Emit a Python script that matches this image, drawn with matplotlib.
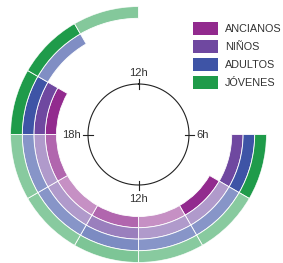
import numpy as np
import matplotlib
matplotlib.use("Agg")
import matplotlib.pyplot as plt
from matplotlib.patches import Rectangle
from matplotlib.colors import to_rgb

# ---- data ----
grupos = ["ANCIANOS", "NIÑOS", "ADULTOS", "JÓVENES"]          # inner -> outer ring
colores = ["#922a8e", "#6f48a0", "#3e54a6", "#1f9b4a"]
horas_inicio = [6, 8, 10, 12, 14, 16, 18, 20, 22]               # 2-hour slots
# intensity of each 2h slot (None = no activity)
ancianos = [None, 1.0, 0.52, 0.72, 0.52, 0.72, 1.0, None, None]
ninos    = [1.0, 0.55, 0.55, 0.70, 0.55, 0.55, 1.0, None, None]
adultos  = [1.0, 0.62, 0.62, 0.68, 0.62, 0.62, 1.0, 0.66, None]
jovenes  = [1.0, 0.53, 0.53, 0.58, 0.53, 0.53, 1.0, 1.0, 0.55]
series = [ancianos, ninos, adultos, jovenes]
reloj_labels = ["12h", "6h", "12h", "18h"]
reloj_horas = [0, 6, 12, 18]

# ---- figure ----
W, H = 283, 263
fig = plt.figure(figsize=(W / 100, H / 100), dpi=100)
cx, cy, R = 138.5, 134.5, 128.0
ax = fig.add_axes([(cx - R) / W, (H - cy - R) / H, 2 * R / W, 2 * R / H],
                  projection="polar")
ax.set_theta_zero_location("N")
ax.set_theta_direction(-1)
ax.set_ylim(0, R)
ax.axis("off")

def h2t(h):
    return h * 2 * np.pi / 24

radios = [82.0, 93.2, 104.6, 116.2, 128.0]

def mezcla(c, a):
    r = np.array(to_rgb(c))
    return tuple(1 - a * (1 - r))

for i, (vals, col) in enumerate(zip(series, colores)):
    for h, v in zip(horas_inicio, vals):
        if v is None:
            continue
        ax.bar(h2t(h), radios[i + 1] - radios[i], width=h2t(2), bottom=radios[i],
               align="edge", color=mezcla(col, v), edgecolor="white",
               linewidth=0.6)

# clock
tt = np.linspace(0, 2 * np.pi, 400)
ax.plot(tt, np.full_like(tt, 50.5), color="#222222", lw=0.8)
for h in reloj_horas:
    ax.plot([h2t(h), h2t(h)], [46, 55.5], color="#222222", lw=0.8)

tk = dict(fontsize=8, color="#333333", family="Liberation Sans")
ax.text(h2t(0), 56.5, reloj_labels[0], ha="center", va="bottom", **tk)
ax.text(h2t(6), 58.0, reloj_labels[1], ha="left", va="center", **tk)
ax.text(h2t(12), 60.0, reloj_labels[2], ha="center", va="top", **tk)
ax.text(h2t(18), 58.0, reloj_labels[3], ha="right", va="center", **tk)

# legend (pixel overlay)
ov = fig.add_axes([0, 0, 1, 1])
ov.set_xlim(0, W)
ov.set_ylim(H, 0)
ov.axis("off")
for i, (g, c) in enumerate(zip(grupos, colores)):
    y0 = 22 + i * 17.9
    ov.add_patch(Rectangle((193, y0), 25, 13, facecolor=c, edgecolor="none"))
    ov.text(225, y0 + 6.8, g, ha="left", va="center", fontsize=7.8,
            color="#333333", family="Liberation Sans")

fig.savefig("out.png", dpi=100)
